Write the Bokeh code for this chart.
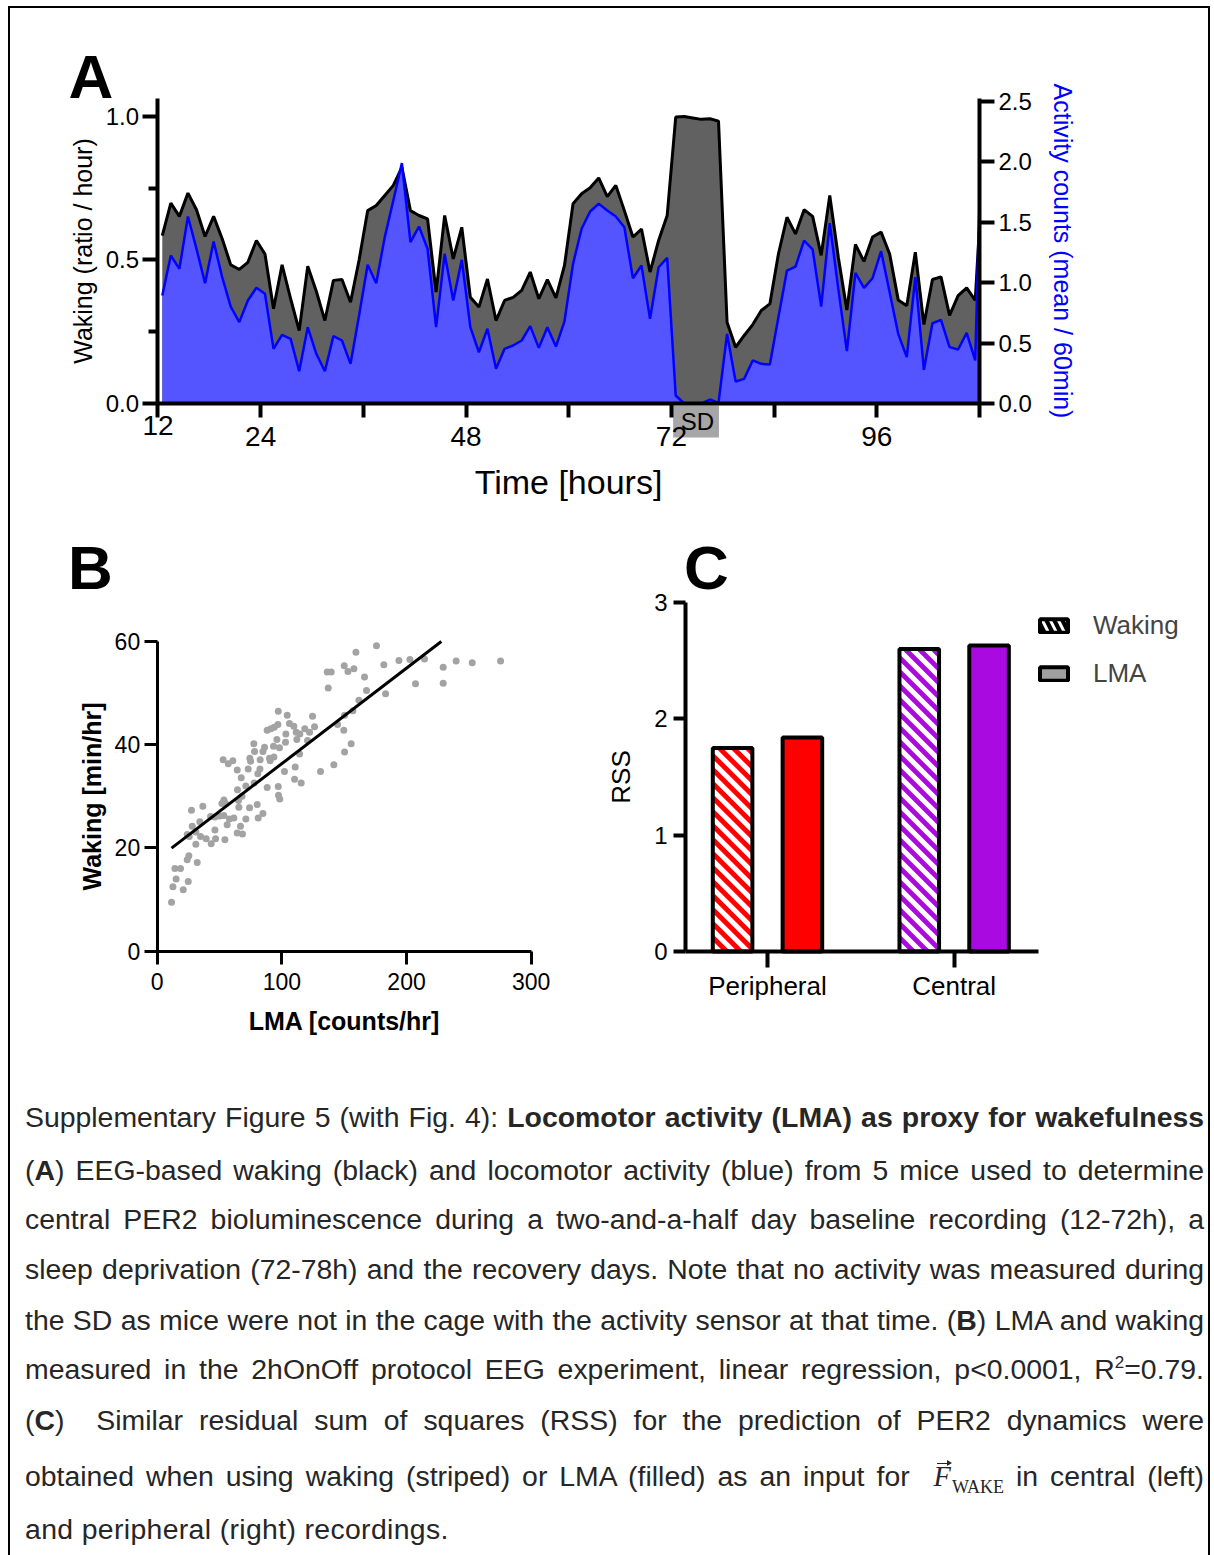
from bokeh.plotting import figure
from bokeh.models import (Range1d, LinearAxis, FixedTicker, Legend, LegendItem,
                          Div, PrintfTickFormatter)
from bokeh.core.properties import value
from bokeh.layouts import column, row
from bokeh.embed import file_html
from bokeh.resources import INLINE

FONT = "Liberation Sans"

# ---------------- Panel A data (hourly means) ----------------
hours = [12.5 + i for i in range(96)] + [108.0]
waking = [0.585, 0.698, 0.652, 0.733, 0.675, 0.582, 0.652, 0.574, 0.483, 0.467,
          0.492, 0.568, 0.521, 0.330, 0.483, 0.365, 0.254, 0.478, 0.391, 0.289,
          0.429, 0.432, 0.353, 0.500, 0.672, 0.690, 0.725, 0.760, 0.823, 0.672,
          0.655, 0.643, 0.388, 0.655, 0.504, 0.614, 0.370, 0.336, 0.434, 0.289,
          0.359, 0.370, 0.394, 0.458, 0.365, 0.432, 0.368, 0.481, 0.696, 0.731,
          0.752, 0.786, 0.721, 0.760, 0.672, 0.580, 0.608, 0.458, 0.568, 0.655,
          0.998, 1.000, 0.995, 0.990, 0.992, 0.984, 0.283, 0.196, 0.237, 0.275,
          0.324, 0.347, 0.521, 0.649, 0.591, 0.675, 0.652, 0.516, 0.725, 0.510,
          0.326, 0.554, 0.495, 0.580, 0.597, 0.521, 0.361, 0.341, 0.527, 0.275,
          0.432, 0.441, 0.307, 0.376, 0.403, 0.359, 0.62]
activity = [0.893, 1.224, 1.114, 1.547, 1.279, 0.995, 1.340, 1.045, 0.802, 0.673,
            0.852, 0.957, 0.907, 0.452, 0.568, 0.535, 0.267, 0.631, 0.411, 0.267,
            0.557, 0.521, 0.328, 0.730, 1.147, 0.995, 1.376, 1.679, 1.988, 1.334,
            1.464, 1.279, 0.631, 1.238, 0.852, 1.188, 0.631, 0.424, 0.618, 0.287,
            0.452, 0.480, 0.521, 0.640, 0.460, 0.631, 0.471, 0.680, 1.155, 1.445,
            1.588, 1.652, 1.596, 1.547, 1.458, 1.036, 1.141, 0.700, 1.127, 1.205,
            0.066, 0.000, 0.000, 0.000, 0.033, 0.005, 0.576, 0.182, 0.204, 0.356,
            0.328, 0.322, 0.714, 1.100, 1.133, 1.348, 1.274, 0.802, 1.491, 0.948,
            0.433, 1.081, 0.957, 1.036, 1.260, 0.921, 0.576, 0.383, 1.045, 0.279,
            0.664, 0.692, 0.466, 0.447, 0.585, 0.356, 1.68]
time_ticks = [12, 24, 36, 48, 60, 72, 84, 96, 108]
time_labels = {12: "", 24: "24", 36: "", 48: "48", 60: "", 72: "72", 84: "", 96: "96", 108: ""}
sd_start, sd_end = 72.2, 77.55

# ---------------- Panel B data ----------------
lma_counts = [175.9, 159.4, 150.0, 157.8, 153.0, 136.4, 139.6, 137.2, 166.3, 167.9,
              181.8, 183.2, 193.9, 202.7, 214.4, 207.2, 229.4, 229.4, 239.8, 252.7,
              275.4, 161.8, 157.0, 150.3, 149.7, 144.7, 155.6, 150.3, 141.7, 131.0,
              97.1, 104.3, 124.6, 106.1, 109.6, 96.8, 91.2, 88.2, 93.9, 103.2,
              111.5, 118.4, 126.2, 122.2, 114.4, 120.6, 112.0, 96.0, 102.9, 93.3,
              98.1, 86.1, 77.5, 78.1, 84.8, 74.3, 82.6, 90.1, 93.6, 90.6,
              74.9, 52.9, 60.7, 57.0, 64.2, 73.0, 82.4, 80.7, 67.4, 71.1,
              77.8, 64.4, 88.2, 97.1, 97.3, 98.3, 102.1, 110.7, 114.2, 110.2,
              115.5, 53.5, 51.9, 65.2, 68.0, 65.5, 74.1, 80.2, 61.5, 71.1,
              84.8, 81.0, 66.8, 64.2, 68.4, 53.5, 50.0, 42.8, 27.5, 36.6,
              34.2, 28.1, 31.0, 24.1, 25.7, 34.8, 39.3, 46.3, 43.3, 46.8,
              54.3, 31.0, 25.4, 24.1, 32.1, 14.2, 18.7, 15.2, 12.6, 24.9,
              20.9, 11.5, 56.1, 57.9, 54.8, 46.3]
waking_min = [59.2, 57.9, 55.3, 54.7, 54.2, 54.1, 54.1, 51.0, 53.1, 50.5,
              55.5, 49.9, 56.3, 56.5, 56.6, 51.8, 55.0, 51.9, 56.2, 55.9,
              56.2, 48.6, 46.6, 45.7, 42.8, 43.9, 40.2, 38.6, 36.1, 34.8,
              46.5, 45.7, 45.5, 44.1, 43.6, 43.9, 43.1, 42.8, 43.4, 42.1,
              42.4, 43.1, 43.5, 42.4, 42.1, 40.8, 41.0, 41.0, 40.5, 39.7,
              39.4, 39.5, 40.2, 38.7, 38.7, 37.4, 37.1, 37.4, 37.6, 36.9,
              36.8, 37.1, 36.9, 36.3, 35.1, 35.3, 35.3, 34.4, 33.6, 32.0,
              32.6, 31.3, 31.7, 31.9, 30.2, 29.5, 34.8, 35.7, 38.2, 33.3,
              32.6, 29.3, 28.6, 29.2, 30.0, 27.9, 27.8, 28.4, 25.8, 25.6,
              26.7, 25.8, 24.2, 22.9, 22.7, 26.3, 26.2, 26.1, 27.3, 28.1,
              25.1, 24.2, 23.1, 22.6, 22.2, 22.2, 21.8, 23.5, 20.8, 21.8,
              21.6, 20.7, 18.5, 17.7, 17.2, 16.0, 16.0, 14.0, 12.5, 13.5,
              11.9, 9.5, 24.5, 25.6, 28.6, 26.0]
fit_intercept = 17.84
fit_slope = 0.185
waking_max = 60

# ---------------- Panel C data ----------------
categories = ["Peripheral", "Central"]
rss_waking = [1.75, 2.60]
rss_lma = [1.84, 2.63]
cat_colors = ["#FF0000", "#A80ADF"]


def style_axis(ax, lw, tick_out, font_px, label_px, bold=False, standoff=5, label_standoff=5):
    ax.axis_line_width = lw
    ax.axis_line_color = "black"
    ax.major_tick_line_width = lw
    ax.major_tick_line_color = "black"
    ax.major_tick_out = tick_out
    ax.major_tick_in = 0
    ax.minor_tick_line_color = None
    ax.major_label_text_font = FONT
    ax.major_label_text_font_size = f"{font_px}px"
    ax.major_label_text_color = "black"
    ax.major_label_standoff = standoff
    ax.axis_label_text_font = FONT
    ax.axis_label_text_font_size = f"{label_px}px"
    ax.axis_label_text_font_style = "bold" if bold else "normal"
    ax.axis_label_text_color = "black"
    ax.axis_label_standoff = label_standoff


def base_fig(**kw):
    # frame fills the whole canvas; all axes are pinned with fixed_location
    p = figure(output_backend="svg", toolbar_location=None,
               min_border_left=0, min_border_right=0, min_border_top=0, min_border_bottom=0, **kw)
    p.xgrid.visible = False
    p.ygrid.visible = False
    p.outline_line_color = None
    p.background_fill_color = "white"
    p.border_fill_color = "white"
    return p


def panel_letter(p, x, y, letter):
    p.text(x=[x], y=[y], text=[letter], text_align="left", text_baseline="alphabetic",
           text_font=value(FONT), text_font_size="62px", text_font_style="bold", text_color="black")


# ================= Panel A =================
pA = base_fig(width=1214, height=520, x_range=Range1d(-6.405, 135.46), y_range=Range1d(-0.40767, 1.40418))
pA.extra_y_ranges = {"act": Range1d(-0.96776, 3.33333)}
pA.varea(x=hours, y1=0, y2=waking, fill_color="#616161")
pA.line(hours, waking, line_color="black", line_width=3)
pA.varea(x=hours, y1=0, y2=activity, fill_color="#5555FF", y_range_name="act")
pA.line(hours, activity, line_color="#0000FF", line_width=2.5, y_range_name="act")

# SD marker box under the time axis
pA.quad(left=[sd_start], right=[sd_end], bottom=[-0.1185], top=[-0.007],
        fill_color="#A6A6A6", line_color=None)
pA.text(x=[sd_start + 0.9], y=[-0.0627], text=["SD"], text_align="left", text_baseline="middle",
        text_font=value(FONT), text_font_size="24px", text_color="black")
pA.text(x=[time_ticks[0]], y=[-0.075], text=[str(time_ticks[0])], text_align="center",
        text_baseline="middle", text_font=value(FONT), text_font_size="28px", text_color="black")
panel_letter(pA, 1.54, 1.1394, "A")

xa = pA.xaxis[0]
xa.ticker = FixedTicker(ticks=time_ticks)
xa.major_label_overrides = time_labels
xa.axis_label = "Time [hours]"
xa.fixed_location = 0
xa.bounds = (12, 108)
style_axis(xa, 4, 14, 28, 34, standoff=10, label_standoff=13)

ya = pA.yaxis[0]
ya.ticker = FixedTicker(ticks=[0, 0.5, 1.0], minor_ticks=[0.25, 0.75])
ya.formatter = PrintfTickFormatter(format="%.1f")
ya.axis_label = "Waking (ratio / hour)"
ya.fixed_location = 12
ya.bounds = (0, 1.063)
style_axis(ya, 4, 15, 24, 25, standoff=4, label_standoff=5)
ya.minor_tick_line_color = "black"
ya.minor_tick_line_width = 4
ya.minor_tick_out = 9
ya.minor_tick_in = 0

ra = LinearAxis(y_range_name="act", ticker=FixedTicker(ticks=[0, 0.5, 1.0, 1.5, 2.0, 2.5]),
                formatter=PrintfTickFormatter(format="%.1f"),
                axis_label="Activity counts (mean / 60min)", bounds=(0, 2.523), fixed_location=108)
style_axis(ra, 4, 15, 24, 25, standoff=4, label_standoff=14)
ra.axis_label_text_color = "#0000FF"
pA.add_layout(ra, "right")

# ================= Panel B =================
pB = base_fig(width=600, height=540, x_range=Range1d(-125.69, 355.58), y_range=Range1d(-21.175, 83.441))
pB.scatter(lma_counts, waking_min, size=7, fill_color="#A3A3A3", line_color=None)
fit_x = [min(lma_counts), (waking_max - fit_intercept) / fit_slope]
pB.line(fit_x, [fit_intercept + fit_slope * v for v in fit_x], line_color="black", line_width=3)
panel_letter(pB, -71.55, 74.34, "B")
xb = pB.xaxis[0]
xb.ticker = FixedTicker(ticks=[0, 100, 200, 300])
xb.axis_label = "LMA [counts/hr]"
xb.fixed_location = 0
xb.bounds = (0, 300)
style_axis(xb, 3, 13, 23, 25, bold=True, standoff=9, label_standoff=13)
yb = pB.yaxis[0]
yb.ticker = FixedTicker(ticks=[0, 20, 40, 60])
yb.axis_label = "Waking [min/hr]"
yb.fixed_location = 0
yb.bounds = (0, 60)
style_axis(yb, 3, 13, 23, 25, bold=True, standoff=4, label_standoff=6)

# ================= Panel C =================
C_W, C_H = 614, 540
cx0, cx1 = 0.10533, 3.39473
cy0, cy1 = -0.93699, 3.70498
pC = base_fig(width=C_W, height=C_H, x_range=Range1d(cx0, cx1), y_range=Range1d(cy0, cy1))
sx = C_W / (cx1 - cx0)   # px per x unit
sy = C_H / (cy1 - cy0)   # px per y unit
cat_pos = [i + 1 for i in range(len(categories))]
off = 0.187
bw = 0.212
w_x = [c - off for c in cat_pos]
l_x = [c + off for c in cat_pos]

# striped (waking) bars: coloured fill, white 45-degree stripes, black outline
pC.vbar(x=w_x, top=rss_waking, width=bw, fill_color=cat_colors, line_color=None)
period = 14.0
s_x0, s_y0, s_x1, s_y1 = [], [], [], []
for xc, top in zip(w_x, rss_waking):
    xl = xc - bw / 2
    W = bw * sx
    H = top * sy
    c = period / 2
    while c < W + H:
        xs = max(0.0, c - H)
        xe = min(W, c)
        if xe > xs:
            s_x0.append(xl + xs / sx)
            s_y0.append((c - xs) / sy)
            s_x1.append(xl + xe / sx)
            s_y1.append((c - xe) / sy)
        c += period
pC.segment(x0=s_x0, y0=s_y0, x1=s_x1, y1=s_y1, line_color="white", line_width=5)
pC.vbar(x=w_x, top=rss_waking, width=bw, fill_color=None, line_color="black", line_width=4)
# filled (LMA) bars
pC.vbar(x=l_x, top=rss_lma, width=bw, fill_color=cat_colors, line_color="black", line_width=4)

# hidden renderers used only as legend swatches
lw_r = pC.vbar(x=[1.5], top=[1], width=bw, fill_color="black", line_color="black", line_width=4,
               hatch_pattern="left_diagonal_line", hatch_color="white", hatch_weight=3, hatch_scale=16,
               visible=False)
ll_r = pC.vbar(x=[1.5], top=[1], width=bw, fill_color="#A0A0A0", line_color="black", line_width=4,
               visible=False)
panel_letter(pC, 0.552, 3.301, "C")
xc_ax = pC.xaxis[0]
xc_ax.ticker = FixedTicker(ticks=cat_pos)
xc_ax.major_label_overrides = {p: c for p, c in zip(cat_pos, categories)}
xc_ax.fixed_location = 0
xc_ax.bounds = (0.561, 2.45)
style_axis(xc_ax, 4, 16, 26, 26, standoff=3)
yc = pC.yaxis[0]
yc.ticker = FixedTicker(ticks=[0, 1, 2, 3])
yc.axis_label = "RSS"
yc.fixed_location = 0.561
yc.bounds = (0, 3)
style_axis(yc, 4, 12, 24, 26, standoff=6, label_standoff=15)
legend = Legend(items=[LegendItem(label="Waking", renderers=[lw_r]),
                       LegendItem(label="LMA", renderers=[ll_r])],
                location=(436, 371), orientation="vertical", glyph_width=35, glyph_height=17,
                label_standoff=22, label_text_font=FONT, label_text_font_size="26px",
                label_height=30, spacing=17, padding=0, margin=0,
                border_line_color=None, background_fill_alpha=0,
                inactive_fill_alpha=0)
pC.add_layout(legend)

# ================= Caption =================
SERIF = "'Liberation Serif',serif"
fwake = (f'<span style="position:relative;display:inline-block;font-family:{SERIF};font-style:italic;">F'
         '<span style="position:absolute;left:3px;top:6px;width:11px;height:0;border-top:1.5px solid #262626;"></span>'
         '<span style="position:absolute;left:13px;top:3.8px;width:0;height:0;border-top:3px solid transparent;'
         'border-bottom:3px solid transparent;border-left:5px solid #262626;"></span></span>'
         f'<span style="font-family:{SERIF};font-size:18px;position:relative;top:7px;margin-left:1px;">WAKE</span>')
sup2 = '<span style="font-size:17px;position:relative;top:-11px;">2</span>'
cap_lines = [
    "Supplementary Figure 5 (with Fig. 4): <b>Locomotor activity (LMA) as proxy for wakefulness</b>",
    "(<b>A</b>) EEG-based waking (black) and locomotor activity (blue) from 5 mice used to determine",
    "central PER2 bioluminescence during a two-and-a-half day baseline recording (12-72h), a",
    "sleep deprivation (72-78h) and the recovery days. Note that no activity was measured during",
    "the SD as mice were not in the cage with the activity sensor at that time. (<b>B</b>) LMA and waking",
    "measured in the 2hOnOff protocol EEG experiment, linear regression, p&lt;0.0001, R" + sup2 + "=0.79.",
    "(<b>C</b>)&nbsp; Similar residual sum of squares (RSS) for the prediction of PER2 dynamics were",
    "obtained when using waking (striped) or LMA (filled) as an input for &nbsp;" + fwake + " in central (left)",
    "and peripheral (right) recordings.",
]
line_tops = [37, 89.5, 139, 188.5, 239.5, 289, 339.5, 395.5, 449]
parts = []
for i, (t, txt) in enumerate(zip(line_tops, cap_lines)):
    is_last = i == len(cap_lines) - 1
    last = "left" if is_last else "justify"
    extra = "letter-spacing:0.35px;" if is_last else ""
    parts.append(f'<div style="position:absolute;left:25px;width:1179px;top:{t}px;height:40px;'
                 f'line-height:40px;white-space:nowrap;text-align:justify;text-align-last:{last};{extra}">{txt}</div>')
cap_html = ('<div style="position:relative;width:1214px;height:495px;font-family:\'Liberation Sans\',Arial,sans-serif;'
            'font-size:28.4px;color:#262626;">' + "".join(parts) + "</div>")
cap = Div(text=cap_html, width=1214, height=495, margin=(0, 0, 0, 0))

border_css = (":host { position: relative; } "
              ":host::after { content: ''; position: absolute; left: 8px; top: 6px; width: 1202px; "
              "height: 1549px; box-sizing: border-box; border: 2px solid #000; border-bottom: none; "
              "pointer-events: none; }")
page = column(pA, row(pB, pC), cap, stylesheets=[border_css])

open("out.html", "w").write(file_html(page, INLINE))
